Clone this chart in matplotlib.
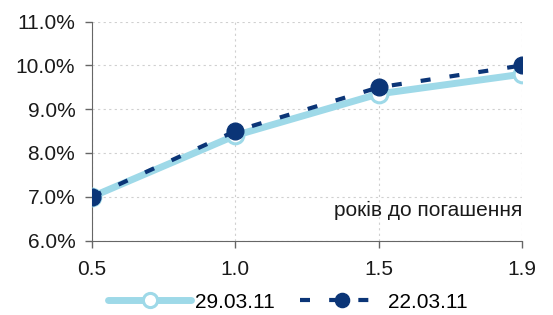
import matplotlib
matplotlib.use("Agg")
import matplotlib.pyplot as plt
from matplotlib.ticker import FuncFormatter

plt.rcParams['font.family'] = ['Liberation Sans', 'DejaVu Sans']

categories = ["0.5", "1.0", "1.5", "1.9"]
s_2903 = [7.0, 8.4, 9.35, 9.8]
s_2203 = [7.0, 8.5, 9.5, 10.0]
label_2903 = "29.03.11"
label_2203 = "22.03.11"

light = "#9ed9e8"
navy = "#0b3577"
FS = 15

fig = plt.figure(figsize=(5.53, 3.15), dpi=100)
ax = fig.add_axes([92/553, 1-240.5/315, (522-92)/553, (240.5-21.7)/315])
x = list(range(len(categories)))

ax.plot(x, s_2903, color=light, lw=5, marker='o', ms=12, mfc='white',
        mec=light, mew=2.2, label=label_2903, zorder=3, solid_capstyle='round')
ax.plot(x, s_2203, color=navy, lw=3, dashes=(2.4, 4.6), marker='o', ms=12,
        mfc=navy, mec=navy, label=label_2203, zorder=4)

ax.set_xlim(0, 3)
ax.set_ylim(6, 11)
ax.set_xticks(x)
ax.set_xticklabels(categories)
ax.set_yticks([6, 7, 8, 9, 10, 11])
ax.yaxis.set_major_formatter(FuncFormatter(lambda v, p: f"{v:.1f}%"))

ax.grid(True, color='#d0d0d0', ls=(0, (2, 3)), lw=0.8)
ax.set_axisbelow(True)
for s in ['top', 'right']:
    ax.spines[s].set_visible(False)
for s in ['left', 'bottom']:
    ax.spines[s].set_color('#666666')
ax.tick_params(axis='both', colors='#666666', labelcolor='#1a1a1a',
               labelsize=FS, length=5, width=1)
ax.tick_params(axis='x', pad=9)
ax.tick_params(axis='y', pad=7)

ax.text(1.0, 0.135, "років до погашення", transform=ax.transAxes, ha='right',
        va='center', fontsize=FS, color='#1a1a1a')

leg = fig.legend(loc='center', bbox_to_anchor=(0.52, 1-302/315), ncol=2,
                 frameon=False, fontsize=FS, handlelength=4.0, columnspacing=1.2,
                 handletextpad=0.2, markerscale=0.85)

fig.savefig("out.png", dpi=100)
